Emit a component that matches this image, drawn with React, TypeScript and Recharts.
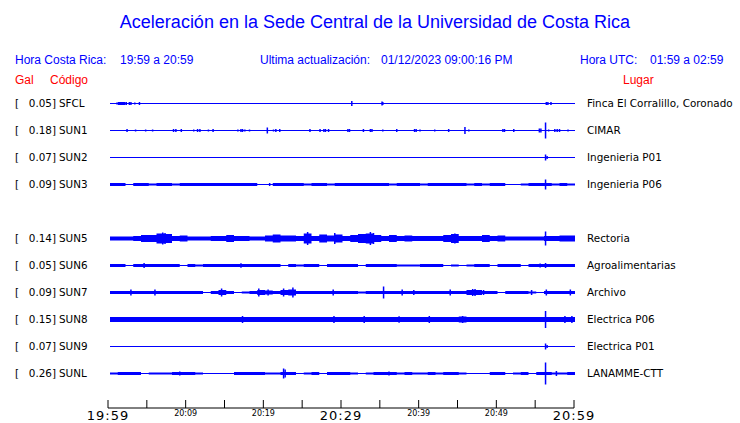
import { AreaChart, Area, LineChart, XAxis, YAxis, ReferenceLine } from 'recharts'

const BLUE = '#0000ff'
const RED = '#ff0000'
const START_MIN = 19 * 60 + 59

// station codes, peak acceleration (Gal) and place, top to bottom (SUN4 slot is empty)
const CODES = ['SFCL', 'SUN1', 'SUN2', 'SUN3', 'SUN5', 'SUN6', 'SUN7', 'SUN8', 'SUN9', 'SUNL']
const GAL = [0.05, 0.18, 0.07, 0.09, 0.14, 0.05, 0.09, 0.15, 0.07, 0.26]
const PLACES = [
  'Finca El Corralillo, Coronado',
  'CIMAR',
  'Ingenieria P01',
  'Ingenieria P06',
  'Rectoria',
  'Agroalimentarias',
  'Archivo',
  'Electrica P06',
  'Electrica P01',
  'LANAMME-CTT',
]

// per-minute envelope (half amplitude) of each trace
const SFCL_ENV = [0, 1.5, 0, 0, 0, 0, 0, 0, 0, 0, 0, 0, 0, 0, 0, 0, 0, 0, 0, 0, 0, 0, 0, 0, 0, 0, 0, 0, 0, 0, 0, 0, 0, 0, 0, 0, 0, 0, 0, 0, 0, 0, 0, 0, 0, 0, 0, 0, 0, 0, 0, 0, 0, 0, 0, 0, 0, 0, 0, 0]
const SUN1_ENV = [0, 0, 0, 0, 0, 0, 0, 0, 0, 0, 0, 0, 0, 0, 0, 0, 0, 0, 0, 0, 0, 0, 0, 0, 0, 0, 0, 0, 0, 0, 0, 0, 0, 0, 0, 0, 0, 0, 0, 0, 0, 0, 0, 0, 0, 0, 0, 0, 0, 0, 0, 0, 0, 0, 0, 0, 0, 0, 0, 0]
const SUN2_ENV = [0, 0, 0, 0, 0, 0, 0, 0, 0, 0, 0, 0, 0, 0, 0, 0, 0, 0, 0, 0, 0, 0, 0, 0, 0, 0, 0, 0, 0, 0, 0, 0, 0, 0, 0, 0, 0, 0, 0, 0, 0, 0, 0, 0, 0, 0, 0, 0, 0, 0, 0, 0, 0, 0, 0, 0, 0, 0, 0, 0]
const SUN3_ENV = [
  1.5, 1.5, 0.5, 1.5, 1.5, 1, 1.5, 1.5, 1, 1.5,
  1.5, 1.5, 1.5, 1.5, 1.5, 1.5, 1.5, 1.5, 1.5, 0,
  0.5, 1.5, 1.5, 1.5, 1.5, 1, 1.5, 1.5, 1, 1.5,
  1.5, 1.5, 1.5, 1.5, 1.5, 1.5, 1, 1.5, 1.5, 1.5,
  1, 1.5, 1.5, 1.5, 1.5, 1.5, 1, 1.5, 1, 1.5,
  1.5, 0.5, 0, 1, 1.5, 1.5, 1.5, 1, 1.5, 1,
]
const SUN5_ENV = [
  2, 2, 2, 2.5, 3.5, 3.5, 5, 4.5, 2.5, 3,
  2, 2, 2, 2.5, 2.5, 3.5, 2.5, 2.5, 2, 2,
  3, 4, 3, 3, 2.5, 5, 2.5, 4, 3, 4,
  2.5, 3.5, 4.5, 5, 3.5, 2.5, 3.5, 2.5, 3, 2.5,
  2.5, 2.5, 2.5, 3.5, 4.5, 2.5, 2.5, 2.5, 3.5, 2.5,
  3, 2, 2, 2, 2, 2, 2.5, 2.5, 3, 3,
]
const SUN6_ENV = [
  1.5, 1.5, 0.5, 1.5, 1.5, 1.5, 1.5, 1.5, 1.5, 0.5,
  1.5, 1, 1.5, 1.5, 1.5, 1.5, 1.5, 1.5, 1.5, 1.5,
  1.5, 1.5, 0.5, 1.5, 1, 1.5, 1.5, 0.5, 1.5, 1.5,
  1.5, 1.5, 0.5, 1.5, 1.5, 1.5, 1.5, 1, 1, 1,
  1.5, 1.5, 1.5, 0.5, 1, 0.5, 1, 1.5, 1.5, 0.5,
  1.5, 1.5, 1.5, 0.5, 1.5, 1.5, 1.5, 1.5, 1.5, 1.5,
]
const SUN7_ENV = [
  1.5, 1.5, 1.5, 1.5, 1.5, 1.5, 1.5, 1.5, 1.5, 1.5,
  1.5, 1.5, 0.5, 1.5, 2.5, 1.5, 0.5, 1, 1.5, 2.5,
  2, 1.5, 2.5, 3, 1.5, 1.5, 1.5, 1.5, 1.5, 1.5,
  1.5, 1.5, 1, 1.5, 1.5, 1.5, 1.5, 1.5, 1.5, 1.5,
  1.5, 1.5, 1.5, 1.5, 1.5, 1.5, 2.5, 2.5, 1.5, 1.5,
  0.5, 1.5, 1.5, 1.5, 1, 0.5, 1.5, 1.5, 1.5, 1.5,
]
const SUN8_ENV = [
  2.5, 2.5, 2.5, 2.5, 2.5, 2.5, 2.5, 2.5, 2.5, 2.5,
  2.5, 2.5, 2.5, 2.5, 2.5, 2.5, 2.5, 2.5, 2.5, 2.5,
  2.5, 2.5, 2.5, 2.5, 2.5, 2.5, 2.5, 2.5, 2.5, 2.5,
  2.5, 2.5, 2.5, 2.5, 2.5, 2.5, 2.5, 2.5, 2.5, 2.5,
  2.5, 2.5, 2.5, 2.5, 2.5, 3, 2.5, 2.5, 2.5, 2.5,
  2.5, 2.5, 2.5, 2.5, 2.5, 2.5, 2.5, 2.5, 2.5, 2.5,
]
const SUN9_ENV = [0, 0, 0, 0, 0, 0, 0, 0, 0, 0, 0, 0, 0, 0, 0, 0, 0, 0, 0, 0, 0, 0, 0, 0, 0, 0, 0, 0, 0, 0, 0, 0, 0, 0, 0, 0, 0, 0, 0, 0, 0, 0, 0, 0, 0, 0, 0, 0, 0, 0, 0, 0, 0, 0, 0, 0, 0, 0, 0, 0]
const SUNL_ENV = [
  1, 1.5, 1.5, 1.5, 0.5, 1, 1, 1, 1.5, 1.5,
  1.5, 1, 0.5, 0.5, 0.5, 0.5, 1.5, 1.5, 1.5, 1.5,
  1, 1, 1.5, 1.5, 0.5, 1, 1.5, 0.5, 1.5, 1.5,
  1.5, 1, 0.5, 1, 1.5, 1.5, 1.5, 1, 1.5, 1,
  1, 1.5, 1, 1.5, 1.5, 1, 0.5, 0.5, 0.5, 1.5,
  1.5, 0.5, 1, 1.5, 0.5, 1.5, 1.5, 1, 1, 1.5,
]

// isolated peaks: [minute, half amplitude]
const SFCL_SPIKES = [[0.9, 1], [2.1, 1.5], [2.5, 1.5], [2.7, 1.5], [3.2, 1], [3.8, 1.5], [31.2, 2.5], [35.1, 2], [35.2, 1.5], [56.3, 1.5], [56.5, 1.5], [56.9, 1.5]]
const SUN1_SPIKES = [
  [2.2, 1.5], [3.3, 1], [4.6, 1], [5.5, 1], [8.2, 1.5], [8.5, 1.5], [9.2, 1.5], [10.8, 1], [11.3, 1.5], [11.6, 1.5],
  [12.7, 1], [13.3, 1.5], [16.5, 1], [16.9, 1.5], [17.1, 1.5], [17.4, 1], [18, 1], [20.3, 3], [21.1, 1], [21.4, 1.5],
  [21.9, 1.5], [25.8, 1.5], [27.1, 1.5], [27.6, 1.5], [27.8, 1.5], [28.2, 1.5], [30.7, 1.5], [30.9, 1.5], [32.7, 1.5], [33.6, 1.5],
  [33.8, 1.5], [35.2, 1], [37, 1.5], [39.3, 1.5], [39.5, 1.5], [40, 1], [41.9, 1], [43.7, 1.5], [45.8, 3.5], [46.3, 1],
  [50.7, 1.5], [50.9, 1.5], [52.1, 1.5], [55.4, 2], [55.6, 2], [56.2, 8], [56.6, 1], [57.4, 1.5], [57.7, 1.5], [58, 1.5], [59.1, 1],
]
const SUN2_SPIKES = [[56.2, 3], [56.4, 1.5]]
const SUN3_SPIKES = [[20.6, 1.5], [56.2, 5]]
const SUN5_SPIKES = [[6.8, 6], [7.1, 5.5], [25.5, 6.5], [29, 5.5], [33.6, 6.5], [34, 5.5], [44.5, 5], [56.2, 7]]
const SUN6_SPIKES = [[4.4, 2.5], [16.9, 2.2], [55.5, 2], [56.2, 2.5]]
const SUN7_SPIKES = [
  [2.7, 3], [5.8, 3], [14.4, 4], [19.2, 4], [20.4, 3], [22.4, 4], [23.6, 5], [28.8, 3], [35.3, 6],
  [37.7, 3], [39.2, 2.5], [43.9, 3], [46.8, 3.5], [47.1, 3.5], [48.2, 2.5], [54.4, 2.5], [56.3, 3], [59.4, 3],
]
const SUN8_SPIKES = [[17.1, 3.5], [28.9, 3.5], [32.8, 3.5], [37.3, 3.2], [41.2, 3.5], [45.5, 3.5], [56.2, 8.5], [58.7, 3.5], [59.6, 3.5]]
const SUN9_SPIKES = [[56.2, 3], [56.4, 1.5]]
const SUNL_SPIKES = [[9, 2], [22.4, 5], [22.6, 4], [36, 2], [56.2, 11], [57.6, 2.5]]

const ENVS = [SFCL_ENV, SUN1_ENV, SUN2_ENV, SUN3_ENV, SUN5_ENV, SUN6_ENV, SUN7_ENV, SUN8_ENV, SUN9_ENV, SUNL_ENV]
const SPIKES = [SFCL_SPIKES, SUN1_SPIKES, SUN2_SPIKES, SUN3_SPIKES, SUN5_SPIKES, SUN6_SPIKES, SUN7_SPIKES, SUN8_SPIKES, SUN9_SPIKES, SUNL_SPIKES]

const TICKS = [0, 5, 10, 15, 20, 25, 30, 35, 40, 45, 50, 55, 60]

const ROW_H = 27
const FIRST_ROW = 103
const TRACE_LEFT = 110
const TRACE_W = 465

function rowCenter(i: number) {
  // the SUN4 slot stays empty
  const slot = i < 4 ? i : i + 1
  return FIRST_ROW + slot * ROW_H
}

function clock(m: number) {
  const t = START_MIN + m
  const h = Math.floor(t / 60) % 24
  const mm = t % 60
  return `${String(h).padStart(2, '0')}:${String(mm).padStart(2, '0')}`
}

function Trace({ env, spikes, center }: { env: number[]; spikes: number[][]; center: number }) {
  const data = env.map((a, m) => ({ m, band: [-a, a] }))
  data.push({ m: 60, band: [-env[59], env[59]] })
  return (
    <div style={{ position: 'absolute', left: TRACE_LEFT, top: center - ROW_H / 2 }}>
      <AreaChart width={TRACE_W} height={ROW_H} data={data} margin={{ top: 0, right: 0, bottom: 0, left: 0 }}>
        <XAxis type="number" dataKey="m" domain={[0, 60]} hide />
        <YAxis type="number" domain={[-ROW_H / 2, ROW_H / 2]} hide />
        <Area
          type="stepAfter"
          dataKey="band"
          fill={BLUE}
          fillOpacity={1}
          stroke="none"
          isAnimationActive={false}
        />
        <ReferenceLine y={0} stroke={BLUE} strokeWidth={1} />
        {spikes.map(([m, a], i) => (
          <ReferenceLine
            key={i}
            segment={[{ x: m, y: -a }, { x: m, y: a }]}
            stroke={BLUE}
            strokeWidth={1.5}
          />
        ))}
      </AreaChart>
    </div>
  )
}

function TimeTick(props: any) {
  const { x, y, payload } = props
  const m = payload.value
  const big = m % 30 === 0
  return (
    <g>
      <line x1={x} x2={x} y1={y - 8} y2={y} stroke="#000" />
      {m % 10 === 0 && (
        <text
          x={x}
          y={big ? y + 12 : y + 8}
          textAnchor="middle"
          fontSize={big ? 13 : 8}
          fontFamily="DejaVu Sans"
          fill="#000"
          letterSpacing={big ? 1 : 0}
        >
          {clock(m)}
        </text>
      )}
    </g>
  )
}

const headFont = { fontFamily: 'Liberation Sans, Arial, sans-serif' }
const rowFont = { fontFamily: 'DejaVu Sans, sans-serif', fontSize: 10.4 }

export default function App() {
  return (
    <div style={{ position: 'absolute', left: 0, top: 0, width: 740, height: 423, background: '#fff' }}>
      <svg width={740} height={423} style={{ position: 'absolute', left: 0, top: 0 }}>
        <text x={375} y={28} textAnchor="middle" fontSize={18} fill={BLUE} style={headFont}>
          Aceleración en la Sede Central de la Universidad de Costa Rica
        </text>
        <g fontSize={12} fill={BLUE} style={headFont}>
          <text x={15} y={64}>Hora Costa Rica:</text>
          <text x={120} y={64}>19:59 a 20:59</text>
          <text x={260} y={64}>Ultima actualización:</text>
          <text x={381} y={64}>01/12/2023 09:00:16 PM</text>
          <text x={580} y={64}>Hora UTC:</text>
          <text x={650} y={64}>01:59 a 02:59</text>
        </g>
        <g fontSize={12} fill={RED} style={headFont}>
          <text x={15} y={84}>Gal</text>
          <text x={50} y={84}>Código</text>
          <text x={623} y={84}>Lugar</text>
        </g>
        {CODES.map((code, i) => {
          const y = rowCenter(i) + 4
          return (
            <g key={code} fill="#000" style={rowFont}>
              <text x={15} y={y}>[</text>
              <text x={56} y={y} textAnchor="end">{GAL[i].toFixed(2)}]</text>
              <text x={59} y={y}>{code}</text>
              <text x={587} y={y}>{PLACES[i]}</text>
            </g>
          )
        })}
      </svg>
      {CODES.map((code, i) => (
        <Trace key={code} env={ENVS[i]} spikes={SPIKES[i]} center={rowCenter(i)} />
      ))}
      <div style={{ position: 'absolute', left: 0, top: 396 }}>
        <LineChart width={740} height={40} data={TICKS.map((m) => ({ m }))} margin={{ top: 0, right: 166, bottom: 0, left: 108 }}>
          <XAxis
            type="number"
            dataKey="m"
            domain={[0, 60]}
            ticks={TICKS}
            interval={0}
            height={28}
            tickSize={0}
            tickMargin={0}
            stroke="#000"
            tickLine={false}
            tick={<TimeTick />}
          />
          <YAxis hide />
        </LineChart>
      </div>
    </div>
  )
}
